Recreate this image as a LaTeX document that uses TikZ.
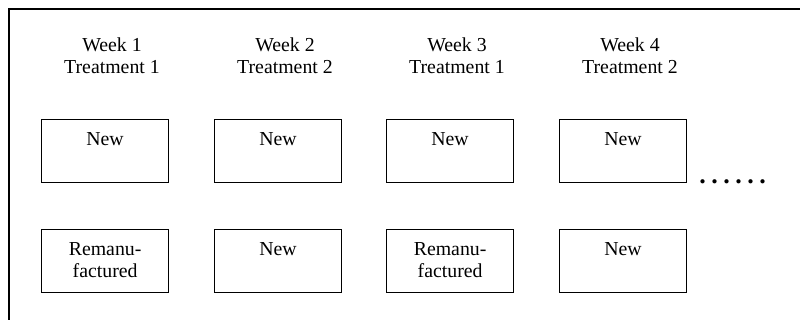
\documentclass[tikz,border=0pt]{standalone}
\usepackage{fontspec}
\setmainfont{Liberation Serif}
\begin{document}
\begin{tikzpicture}[x=0.5pt,y=-0.5pt,
  box/.style={draw, line width=0.6pt, minimum width=63.5pt, minimum height=31.5pt, inner sep=0pt, anchor=north west},
  lbl/.style={anchor=base, align=center, font=\fontsize{9.9}{11}\selectfont, inner sep=0pt},
  frame/.style={draw, line width=1pt},
]
\useasboundingbox (0,0) rectangle (800,320);
\clip (0,0) rectangle (800,320);
% outer frame (cut off at right and bottom)
\draw[frame] (9,340) -- (9,9) -- (820,9);
% headers (base anchor = last line)
\node[lbl] (h1) at (112,74) {Week 1\\Treatment 1};
\node[lbl] (h2) at (285,74) {Week 2\\Treatment 2};
\node[lbl] (h3) at (457,74) {Week 3\\Treatment 1};
\node[lbl] (h4) at (630,74) {Week 4\\Treatment 2};
% row 1 boxes
\node[box] (a1) at (41,119) {};
\node[box] (a2) at (214,119) {};
\node[box] (a3) at (386,119) {};
\node[box] (a4) at (559,119) {};
% row 2 boxes
\node[box] (b1) at (41,229) {};
\node[box] (b2) at (214,229) {};
\node[box] (b3) at (386,229) {};
\node[box] (b4) at (559,229) {};
% box texts
\node[lbl] (ta1) at ([yshift=-13.5pt]a1.north) {New};
\node[lbl] (ta2) at ([yshift=-13.5pt]a2.north) {New};
\node[lbl] (ta3) at ([yshift=-13.5pt]a3.north) {New};
\node[lbl] (ta4) at ([yshift=-13.5pt]a4.north) {New};
\node[lbl] (tb1) at ([yshift=-24.5pt]b1.north) {Remanu-\\factured};
\node[lbl] (tb2) at ([yshift=-13.5pt]b2.north) {New};
\node[lbl] (tb3) at ([yshift=-24.5pt]b3.north) {Remanu-\\factured};
\node[lbl] (tb4) at ([yshift=-13.5pt]b4.north) {New};
% continuation dots
\node[anchor=base west, inner sep=0pt, font=\fontsize{13}{13}\selectfont\bfseries] (dots) at (699,184)
  {.\kern2.75pt.\kern2.75pt.\kern2.75pt.\kern2.75pt.\kern2.75pt.};
\end{tikzpicture}
\end{document}
